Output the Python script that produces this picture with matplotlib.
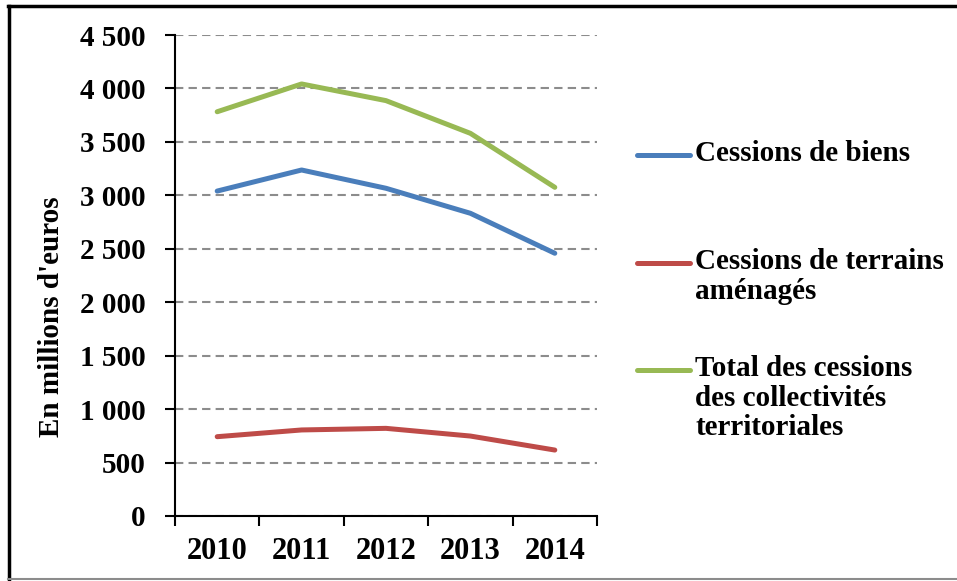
import matplotlib
matplotlib.use("Agg")
import matplotlib.pyplot as plt
from matplotlib.lines import Line2D
from matplotlib.ticker import FuncFormatter

years = ["2010", "2011", "2012", "2013", "2014"]
cessions_biens = [3040, 3237, 3066, 2832, 2458]
cessions_terrains = [742, 805, 820, 748, 617]
total_cessions = [3782, 4042, 3886, 3580, 3075]

series_labels = [
    "Cessions de biens",
    "Cessions de terrains\naménagés",
    "Total des cessions\ndes collectivités\nterritoriales",
]
colors = ["#4A7EBB", "#BE4B48", "#98B954"]

W, H = 957, 581
fig = plt.figure(figsize=(W / 100, H / 100), dpi=100)
font = {"family": ["Liberation Serif", "DejaVu Serif"], "weight": "bold"}

# axes placement in pixels
x0, x1, ytop, ybot = 175, 597, 35, 516
ax = fig.add_axes([x0 / W, 1 - ybot / H, (x1 - x0) / W, (ybot - ytop) / H])

xs = list(range(len(years)))
for vals, c in zip([cessions_biens, cessions_terrains, total_cessions], colors):
    ax.plot(xs, vals, color=c, lw=3.6, solid_capstyle="round", solid_joinstyle="round", zorder=3)

ax.set_xlim(-0.5, len(years) - 0.5)
ax.set_ylim(0, 4500)
ax.set_yticks(range(0, 4501, 500))
ax.yaxis.set_major_formatter(FuncFormatter(lambda v, p: f"{int(v):,}".replace(",", " ")))
ax.set_xticks(xs)
ax.set_xticklabels(years)
ax.set_xticks([i - 0.5 for i in range(len(years) + 1)], minor=True)
ax.tick_params(axis="x", which="major", length=0, pad=15)
ax.tick_params(axis="x", which="minor", length=7, width=1.5, direction="out")
ax.tick_params(axis="y", length=7, width=1.5, direction="out", pad=14)
for lab in ax.get_yticklabels():
    lab.set_fontfamily(font["family"])
    lab.set_fontweight("bold")
    lab.set_fontsize(21)
for lab in ax.get_xticklabels():
    lab.set_fontfamily(font["family"])
    lab.set_fontweight("bold")
    lab.set_fontsize(22)

ax.yaxis.grid(True, color="#8C8C8C", ls=(0, (4, 2.5)), lw=1.5)
ax.set_axisbelow(True)
for s in ["top", "right"]:
    ax.spines[s].set_visible(False)
for s in ["left", "bottom"]:
    ax.spines[s].set_linewidth(1.5)

fig.text(52 / W, 1 - 317 / H, "En millions d'euros", rotation=90, ha="center", va="center",
         fontsize=21, **font)

# legend drawn as lines and text on the figure
leg_rows = [155, 263, 370]
for lab, c, yy in zip(series_labels, colors, leg_rows):
    fig.add_artist(Line2D([637 / W, 690 / W], [1 - yy / H] * 2, color=c, lw=3.6,
                          solid_capstyle="round"))
    fig.text(695 / W, 1 - (yy - 15) / H, lab, ha="left", va="top", fontsize=21,
             linespacing=1.12, **font)

# outer frame
fig.add_artist(Line2D([8 / W, 1], [1 - 6 / H] * 2, color="black", lw=2.5))
fig.add_artist(Line2D([9 / W] * 2, [1 - 6 / H, 1 - 579 / H], color="black", lw=2.5))
fig.add_artist(Line2D([8 / W, 1], [1 - 579 / H] * 2, color="#8C8C8C", lw=1.5))

fig.savefig("out.png", dpi=100)
